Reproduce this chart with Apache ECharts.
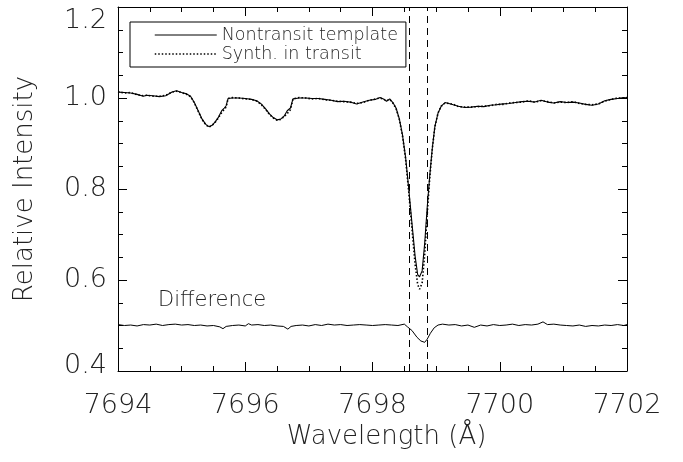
<!DOCTYPE html>
<html>
<head>
<meta charset="utf-8">
<script src="https://cdn.jsdelivr.net/npm/echarts@6/dist/echarts.min.js"></script>
<style>
  html, body { margin: 0; padding: 0; background: #fff; }
  #chart { width: 683px; height: 462px; }
</style>
</head>
<body>
<div id="chart"></div>
<script>
// wavelength grid of the line profiles (Å)
const waveSpec = [
  7694.00, 7694.10, 7694.20, 7694.30, 7694.40, 7694.45, 7694.55, 7694.65, 7694.75, 7694.85,
  7694.92, 7695.00, 7695.08, 7695.14, 7695.20, 7695.26, 7695.32, 7695.38, 7695.43, 7695.48,
  7695.53, 7695.58, 7695.63, 7695.67, 7695.70, 7695.73, 7695.80, 7695.90, 7696.00, 7696.10,
  7696.18, 7696.25, 7696.32, 7696.38, 7696.44, 7696.50, 7696.56, 7696.61, 7696.66, 7696.71,
  7696.75, 7696.85, 7696.95, 7697.05, 7697.15, 7697.25, 7697.35, 7697.45, 7697.55, 7697.65,
  7697.75, 7697.85, 7697.95, 7698.05, 7698.12, 7698.18, 7698.22, 7698.27, 7698.32, 7698.37,
  7698.42, 7698.47, 7698.52, 7698.57, 7698.62, 7698.67, 7698.71, 7698.74, 7698.78, 7698.82,
  7698.86, 7698.90, 7698.94, 7698.98, 7699.03, 7699.08, 7699.14, 7699.20, 7699.27, 7699.35,
  7699.45, 7699.55, 7699.65, 7699.75, 7699.85, 7699.95, 7700.05, 7700.15, 7700.25, 7700.35,
  7700.45, 7700.55, 7700.65, 7700.75, 7700.85, 7700.95, 7701.05, 7701.15, 7701.25, 7701.35,
  7701.45, 7701.55, 7701.65, 7701.75, 7701.85, 7701.95, 7702.00
];
// Nontransit template
const nontransit = [
  1.013, 1.012, 1.011, 1.008, 1.004, 1.006, 1.005, 1.003, 1.005, 1.013,
  1.016, 1.012, 1.009, 1.004, 0.990, 0.972, 0.954, 0.942, 0.937, 0.940,
  0.948, 0.958, 0.972, 0.978, 0.983, 0.999, 1.000, 1.000, 0.999, 0.997,
  0.994, 0.987, 0.976, 0.965, 0.957, 0.952, 0.954, 0.960, 0.972, 0.978,
  0.998, 1.000, 1.000, 0.999, 0.999, 0.997, 0.995, 0.992, 0.993, 0.991,
  0.987, 0.991, 0.995, 0.997, 1.001, 0.997, 0.993, 0.998, 0.990, 0.978,
  0.955, 0.920, 0.870, 0.800, 0.725, 0.652, 0.612, 0.607, 0.620, 0.680,
  0.760, 0.830, 0.890, 0.937, 0.967, 0.982, 0.990, 0.988, 0.985, 0.982,
  0.979, 0.980, 0.982, 0.981, 0.984, 0.985, 0.987, 0.988, 0.990, 0.992,
  0.993, 0.991, 0.995, 0.991, 0.989, 0.992, 0.990, 0.991, 0.989, 0.986,
  0.984, 0.987, 0.994, 0.997, 0.999, 1.001, 1.000
];
// Synth. in transit
const synthTransit = [
  1.014, 1.011, 1.012, 1.007, 1.005, 1.006, 1.004, 1.004, 1.006, 1.013,
  1.015, 1.012, 1.008, 1.003, 0.989, 0.971, 0.953, 0.941, 0.936, 0.940,
  0.947, 0.957, 0.968, 0.975, 0.980, 0.999, 1.001, 1.000, 0.998, 0.997,
  0.993, 0.986, 0.975, 0.964, 0.956, 0.951, 0.953, 0.959, 0.966, 0.974,
  0.998, 1.001, 1.000, 0.998, 0.999, 0.996, 0.995, 0.993, 0.992, 0.991,
  0.988, 0.990, 0.995, 0.998, 1.000, 0.997, 0.994, 0.997, 0.989, 0.977,
  0.954, 0.918, 0.866, 0.793, 0.713, 0.634, 0.590, 0.580, 0.593, 0.655,
  0.745, 0.825, 0.888, 0.936, 0.967, 0.982, 0.989, 0.988, 0.986, 0.981,
  0.980, 0.980, 0.981, 0.982, 0.983, 0.986, 0.986, 0.989, 0.990, 0.991,
  0.994, 0.991, 0.994, 0.992, 0.989, 0.991, 0.990, 0.992, 0.988, 0.986,
  0.985, 0.987, 0.993, 0.997, 1.000, 1.000, 1.001
];
// Difference (offset to 0.5)
const waveDiff = [
  7694.00, 7694.10, 7694.20, 7694.30, 7694.40, 7694.50, 7694.60, 7694.70, 7694.80, 7694.90,
  7695.00, 7695.10, 7695.20, 7695.30, 7695.40, 7695.50, 7695.60, 7695.65, 7695.70, 7695.80,
  7695.90, 7696.00, 7696.05, 7696.10, 7696.20, 7696.30, 7696.40, 7696.50, 7696.60, 7696.67,
  7696.72, 7696.80, 7696.90, 7697.00, 7697.10, 7697.20, 7697.30, 7697.40, 7697.50, 7697.60,
  7697.70, 7697.80, 7697.90, 7698.00, 7698.10, 7698.20, 7698.30, 7698.40, 7698.50, 7698.55,
  7698.62, 7698.70, 7698.76, 7698.82, 7698.86, 7698.91, 7698.97, 7699.03, 7699.10, 7699.20,
  7699.30, 7699.40, 7699.50, 7699.60, 7699.70, 7699.80, 7699.90, 7700.00, 7700.10, 7700.20,
  7700.30, 7700.40, 7700.50, 7700.60, 7700.68, 7700.75, 7700.85, 7700.95, 7701.05, 7701.15,
  7701.25, 7701.35, 7701.45, 7701.55, 7701.65, 7701.75, 7701.85, 7701.95, 7702.00
];
const difference = [
  0.502, 0.500, 0.501, 0.499, 0.502, 0.501, 0.503, 0.500, 0.502, 0.503,
  0.501, 0.502, 0.500, 0.501, 0.499, 0.500, 0.497, 0.493, 0.498, 0.500,
  0.501, 0.499, 0.504, 0.501, 0.502, 0.500, 0.501, 0.499, 0.498, 0.492,
  0.498, 0.500, 0.501, 0.499, 0.502, 0.500, 0.503, 0.501, 0.502, 0.500,
  0.501, 0.502, 0.501, 0.500, 0.501, 0.502, 0.501, 0.500, 0.503, 0.497,
  0.489, 0.474, 0.466, 0.463, 0.470, 0.483, 0.495, 0.501, 0.503, 0.501,
  0.502, 0.499, 0.501, 0.496, 0.501, 0.499, 0.502, 0.500, 0.501, 0.503,
  0.500, 0.502, 0.501, 0.503, 0.508, 0.502, 0.503, 0.501, 0.500, 0.499,
  0.501, 0.498, 0.500, 0.499, 0.501, 0.500, 0.502, 0.500, 0.502
];
// transit window marks
const markWaves = [7698.58, 7698.86];
const xTicks = [7694, 7702, 2];
const yTicks = [0.4, 1.2, 0.2];

const FONT = '"DejaVu Sans", sans-serif';
const zip = (xs, ys) => xs.map((x, i) => [x, ys[i]]);

const chart = echarts.init(document.getElementById('chart'), null, { renderer: 'canvas' });

const tickStyle = { color: '#000', width: 1 };
function xAx(pos, labels) {
  return {
    type: 'value', position: pos, min: xTicks[0], max: xTicks[1], interval: xTicks[2],
    axisLine: { show: true, onZero: false, lineStyle: tickStyle },
    axisTick: { show: true, inside: true, length: 9, lineStyle: tickStyle },
    minorTick: { show: true, splitNumber: 4, length: 5, lineStyle: tickStyle },
    splitLine: { show: false },
    axisLabel: {
      show: labels, margin: 21, fontSize: 27, fontFamily: FONT, fontWeight: 200, color: '#222',
      formatter: v => String(v)
    },
    name: labels ? 'Wavelength (Å)' : '', nameLocation: 'middle', nameGap: 53,
    nameTextStyle: { fontSize: 26, fontFamily: FONT, fontWeight: 200, color: '#222', padding: [0, 0, 0, 28] }
  };
}
function yAx(pos, labels) {
  return {
    type: 'value', position: pos, min: yTicks[0], max: yTicks[1], interval: yTicks[2],
    axisLine: { show: true, onZero: false, lineStyle: tickStyle },
    axisTick: { show: true, inside: true, length: 9, lineStyle: tickStyle },
    minorTick: { show: true, splitNumber: 4, length: 5, lineStyle: tickStyle },
    splitLine: { show: false },
    axisLabel: {
      show: labels, margin: 11, fontSize: 27, fontFamily: FONT, fontWeight: 200, color: '#222',
      formatter: v => (v === yTicks[0] ? '{lo|' + v.toFixed(1) + '}' : v.toFixed(1)),
      rich: { lo: { fontSize: 27, fontFamily: FONT, fontWeight: 200, color: '#222', lineHeight: 10 } },
      verticalAlignMinLabel: 'bottom', verticalAlignMaxLabel: 'top'
    },
    name: labels ? 'Relative Intensity' : '', nameLocation: 'middle', nameGap: 80,
    nameTextStyle: { fontSize: 26, fontFamily: FONT, fontWeight: 200, color: '#222' }
  };
}

chart.setOption({
  animation: false,
  backgroundColor: '#fff',
  grid: { left: 118, right: 56, top: 7, bottom: 91 },
  xAxis: [xAx('bottom', true), xAx('top', false)],
  yAxis: [yAx('left', true), yAx('right', false)],
  legend: {
    orient: 'vertical', left: 130, top: 22,
    padding: [4, 8, 4, 24],
    borderColor: '#000', borderWidth: 1,
    itemWidth: 62, itemHeight: 14, itemGap: 1,
    textStyle: { fontSize: 17.5, lineHeight: 16, fontFamily: FONT, fontWeight: 200, color: '#222' },
    data: [
      { name: 'Nontransit template', itemStyle: { opacity: 0 },
        lineStyle: { color: '#000', width: 1, type: 'solid' } },
      { name: 'Synth. in transit', itemStyle: { opacity: 0 },
        lineStyle: { color: '#000', width: 1.5, type: [1.5, 2] } }
    ]
  },
  graphic: [
    { type: 'text', left: 158, top: 290,
      style: { text: 'Difference', fontSize: 21, fontFamily: FONT, fontWeight: 200, fill: '#222' } }
  ],
  series: [
    {
      name: 'Nontransit template', type: 'line', data: zip(waveSpec, nontransit),
      showSymbol: false,
      lineStyle: { color: '#000', width: 1.1 },
      markLine: {
        silent: true, symbol: ['none', 'none'], label: { show: false },
        lineStyle: { color: '#000', width: 1, type: [7, 5] },
        data: markWaves.map(w => ({ xAxis: w }))
      }
    },
    {
      name: 'Synth. in transit', type: 'line', data: zip(waveSpec, synthTransit),
      showSymbol: false,
      lineStyle: { color: '#000', width: 1.6, type: [1.5, 2] }
    },
    {
      name: 'Difference', type: 'line', data: zip(waveDiff, difference),
      showSymbol: false,
      lineStyle: { color: '#000', width: 1 }
    }
  ]
});
</script>
</body>
</html>
